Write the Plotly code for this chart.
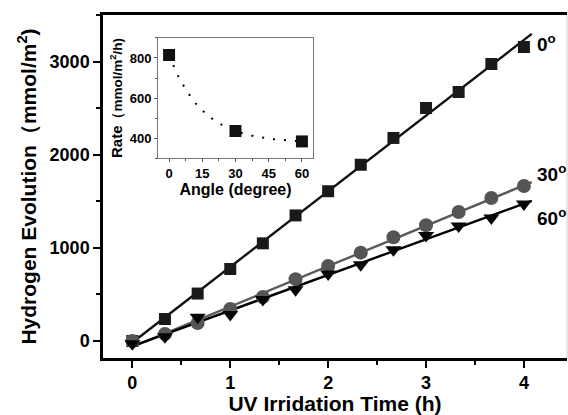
import numpy as np
import plotly.graph_objects as go

# ---- data ----
time_h = [0, 0.333, 0.667, 1.0, 1.333, 1.667, 2.0, 2.333, 2.667, 3.0, 3.333, 3.667, 4.0]
h2_0deg = [0, 236, 510, 774, 1050, 1350, 1610, 1895, 2183, 2505, 2677, 2978, 3161]
h2_30deg = [0, 75, 194, 345, 473, 665, 806, 950, 1115, 1245, 1387, 1538, 1667]
h2_60deg = [-30, 45, 255, 285, 445, 550, 720, 820, 980, 1135, 1235, 1323, 1473]
series_labels = ["0<sup>o</sup>", "30<sup>o</sup>", "60<sup>o</sup>"]

inset_angle = [0, 30, 60]
inset_rate = [815, 435, 383]

x_ticks = [0, 1, 2, 3, 4]
y_ticks = [0, 1000, 2000, 3000]
inset_x_ticks = [0, 15, 30, 45, 60]
inset_y_ticks = [400, 600, 800]

FONT = "Arial, Liberation Sans, sans-serif"

fig = go.Figure()

# linear fits for each series
fit_end = 4.08
t = np.array(time_h)
specs = [
    (h2_0deg, "square", "#1a1a1a", "#111111", 12),
    (h2_30deg, "circle", "#555555", "#5a5a5a", 14),
    (h2_60deg, "triangle-down", "#050505", "#000000", 14),
]
for vals, sym, mcol, lcol, msz in specs:
    k, b = np.polyfit(t, np.array(vals), 1)
    xf = np.array([0.0, fit_end])
    fig.add_trace(go.Scatter(x=xf, y=k * xf + b, mode="lines",
                             line=dict(color=lcol, width=2.4),
                             showlegend=False, hoverinfo="skip"))
for vals, sym, mcol, lcol, msz in specs:
    fig.add_trace(go.Scatter(x=time_h, y=vals, mode="markers",
                             marker=dict(symbol=sym, size=msz, color=mcol,
                                         line=dict(width=0)),
                             showlegend=False))

# series labels
label_y = [3204, 1806, 1333]
for lab, yy in zip(series_labels, label_y):
    fig.add_annotation(x=4.11, y=yy, xref="x", yref="y", text=lab,
                       showarrow=False, xanchor="left", yanchor="middle",
                       font=dict(family=FONT, size=19, color="black", weight="bold"))

# inset: exponential decay fit through the three points
a0, a1, a2 = inset_rate
r = (a1 - a2) / (a0 - a1)
B = (a0 - a1) / (1 - r)
A = a0 - B
tau = (inset_angle[1] - inset_angle[0]) / np.log(1 / r)
xa = np.linspace(0, 60, 120)
fig.add_trace(go.Scatter(x=xa, y=A + B * np.exp(-xa / tau), mode="lines",
                         line=dict(color="black", width=2, dash="2px,9px"),
                         xaxis="x2", yaxis="y2", showlegend=False, hoverinfo="skip"))
fig.add_trace(go.Scatter(x=inset_angle, y=inset_rate, mode="markers",
                         marker=dict(symbol="square", size=12, color="#111111"),
                         xaxis="x2", yaxis="y2", showlegend=False))

tickfont = dict(family=FONT, size=18, color="black", weight="bold")
itickfont = dict(family=FONT, size=13, color="black", weight="bold")

fig.update_layout(
    width=568, height=415,
    margin=dict(l=103, r=1, t=15, b=57),
    paper_bgcolor="white", plot_bgcolor="white",
    showlegend=False,
    xaxis=dict(range=[-0.3, 4.44], tickvals=x_ticks, ticks="outside", ticklen=7,
               tickwidth=2, tickcolor="black",
               minor=dict(dtick=0.5, ticks="outside", ticklen=4, tickwidth=2, tickcolor="black"),
               showline=True, linecolor="black", linewidth=2.5, mirror=True,
               showgrid=False, zeroline=False, tickfont=tickfont,
               title=dict(text="UV Irridation Time (h)", standoff=3,
                          font=dict(family=FONT, size=21, color="black", weight="bold"))),
    yaxis=dict(range=[-183, 3505], tickvals=y_ticks, ticks="outside", ticklen=7,
               tickwidth=2, tickcolor="black",
               minor=dict(dtick=500, ticks="outside", ticklen=4, tickwidth=2, tickcolor="black"),
               showline=True, linecolor="black", linewidth=2.5, mirror=False,
               showgrid=False, zeroline=False, tickfont=tickfont,
               title=dict(text="Hydrogen Evolution（mmol/m<sup>2</sup>)", standoff=8,
                          font=dict(family=FONT, size=21, color="black", weight="bold"))),
    xaxis2=dict(domain=[0.1185, 0.4526], anchor="y2", range=[-5, 65],
                tickvals=inset_x_ticks, ticks="outside", ticklen=3, tickcolor="#555555",
                minor=dict(dtick=7.5, ticks="outside", ticklen=2, tickcolor="#555555"),
                showline=True, linecolor="#777777", linewidth=1, mirror=True,
                showgrid=False, zeroline=False, tickfont=itickfont,
                title=dict(text="Angle (degree)", standoff=2,
                           font=dict(family=FONT, size=16, color="black", weight="bold"))),
    yaxis2=dict(domain=[0.583, 0.933], anchor="x2", range=[300, 900],
                tickvals=inset_y_ticks, ticks="outside", ticklen=3, tickcolor="#555555",
                minor=dict(dtick=100, ticks="outside", ticklen=2, tickcolor="#555555"),
                showline=True, linecolor="#777777", linewidth=1, mirror=True,
                showgrid=False, zeroline=False, tickfont=itickfont,
                title=dict(text="Rate<span style='font-size:13.5px'>（mmol/m<sup>2</sup>/h)</span>",
                           standoff=3,
                           font=dict(family=FONT, size=15, color="black", weight="bold"))),
    shapes=[dict(type="line", xref="paper", yref="paper", x0=1, x1=1, y0=0, y1=1,
                 line=dict(color="#cccccc", width=1))],
)

fig.write_html("out.html", config={"displayModeBar": False},
               post_script="document.body.style.margin='0px';document.body.style.overflow='hidden';")
